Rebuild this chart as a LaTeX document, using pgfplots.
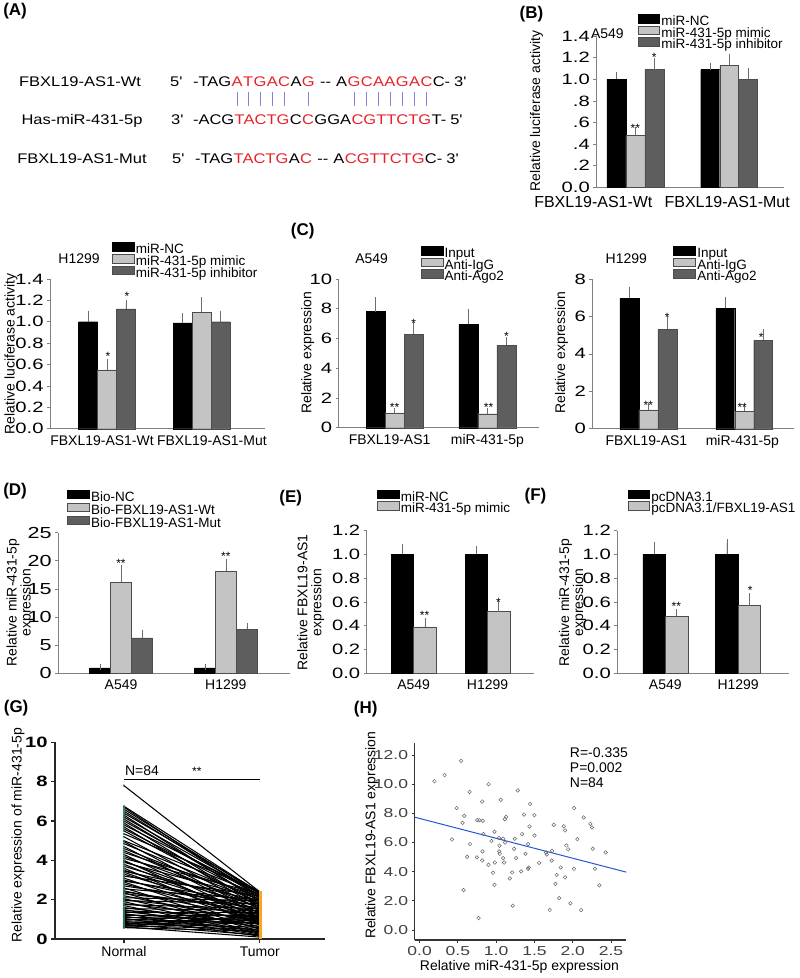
\documentclass[border=0pt]{standalone}
\usepackage{fontspec}
\setmainfont{Liberation Sans}
\newfontfamily\tickfont{Liberation Sans}[FakeStretch=1.35]
\newfontfamily\seqfont{Liberation Sans}[FakeStretch=1.18]
\usepackage{pgfplots}
\pgfplotsset{compat=1.18}
\usepackage{pgfplotstable}

\definecolor{lgray}{HTML}{C4C4C4}
\definecolor{dgray}{HTML}{5E5E5E}
\definecolor{ebar}{HTML}{6E6E6E}
\definecolor{seqred}{HTML}{E8202A}
\definecolor{pairblue}{HTML}{8282D8}
\definecolor{regblue}{HTML}{2A55D2}
\definecolor{tumor}{HTML}{F2A81D}
\definecolor{normal}{HTML}{2F6E55}

\newcommand\fsz[1]{\fontsize{#1pt}{#1pt}\selectfont}

\pgfplotsset{
  barax/.style={
    scale only axis, anchor=south west, clip=false,
    axis x line*=bottom, axis y line*=left,
    axis line style={draw=gray, line width=0.6pt},
    ybar=0pt, ymin=0,
    tick align=outside, major tick length=3pt,
    ytick style={draw=gray, line width=0.6pt},
    xtick style={draw=none},
    xticklabel style={font=\fsz{14}},
    yticklabel style={font=\tickfont\fsz{14}},
    /pgf/number format/assume math mode=true,
    legend cell align=left,
    legend style={draw=none, fill=none, anchor=north west, inner sep=0pt,
      row sep=-2.5pt, font=\fsz{13.5},
      nodes={inner xsep=1.5pt, inner ysep=0pt, text height=9pt, text depth=2.5pt}},
    error bars/y dir=plus, error bars/y explicit,
    error bars/error bar style={draw=ebar, line width=0.6pt},
    error bars/error mark options={draw=ebar, mark size=3pt, line width=0.6pt},
  },
  swatch/.style={legend image code/.code={\draw[##1] (0pt,-0.5pt) rectangle (22pt,8pt);}},
  blk/.style={fill=black, draw=black, line width=0.4pt, swatch},
  lgt/.style={fill=lgray, draw=black!70, line width=0.4pt, swatch},
  drk/.style={fill=dgray, draw=black!70, line width=0.4pt, swatch},
}

% G: paired samples (normal, tumor), estimated
\pgfplotstableread{
n t
7.80 2.40
6.75 2.35
6.70 2.10
6.60 2.30
6.50 2.20
6.40 2.40
6.30 1.90
6.20 2.30
6.10 2.00
6.00 2.20
5.90 1.70
5.80 2.35
5.70 1.60
5.60 2.10
5.50 1.80
5.35 2.40
5.20 1.50
5.00 2.25
4.95 1.30
4.85 2.00
4.70 1.20
4.60 1.90
4.50 1.55
4.40 2.15
4.30 1.00
4.20 1.75
4.10 2.30
4.00 0.90
3.95 1.45
3.90 2.05
3.80 1.10
3.70 1.65
3.60 0.70
3.50 1.35
3.45 1.95
3.40 0.95
3.30 1.25
3.20 2.20
3.10 0.80
3.00 1.50
2.95 1.85
2.90 0.60
2.80 1.15
2.70 1.70
2.60 0.50
2.55 2.00
2.45 1.05
2.40 1.40
2.35 0.40
2.30 1.60
2.20 0.85
2.10 1.95
2.05 0.55
2.00 1.25
1.95 1.80
1.90 0.35
1.80 1.00
1.75 1.55
1.70 0.30
1.60 0.75
1.55 1.45
1.50 0.25
1.45 1.10
1.40 0.65
1.35 1.35
1.30 0.20
1.25 0.90
1.20 1.20
1.15 0.45
1.10 1.00
1.05 0.15
1.00 0.80
0.95 1.30
0.90 0.35
0.85 1.05
0.80 0.60
0.78 1.15
0.75 0.20
0.70 0.95
0.68 0.50
0.65 1.20
0.62 0.10
0.60 0.85
0.58 0.40
}\gdata

% H: scatter of miR-431-5p vs FBXL19-AS1
\pgfplotstableread{
x y
0.543 11.60
0.326 10.62
0.196 10.20
0.900 10.00
1.283 9.57
0.652 9.47
0.817 8.81
1.061 8.93
1.443 8.65
0.483 8.36
2.017 8.36
1.365 7.92
1.500 7.88
0.583 7.83
1.130 7.76
1.113 7.60
2.143 7.72
0.752 7.53
0.783 7.53
0.826 7.49
0.561 7.35
1.752 7.21
2.230 7.28
1.435 7.10
1.883 7.12
2.252 7.03
1.900 6.83
0.978 6.74
0.835 6.58
1.339 6.58
1.500 6.48
0.422 6.21
1.039 6.32
1.091 6.26
1.243 6.26
2.061 6.23
0.939 6.10
1.117 6.00
0.661 5.89
1.043 5.78
1.417 5.89
1.917 5.80
1.235 5.57
1.939 5.53
2.261 5.57
0.822 5.39
1.039 5.39
1.730 5.43
1.661 5.18
1.383 5.23
2.430 5.32
0.622 5.02
1.091 4.93
1.261 4.93
1.726 4.77
0.817 4.77
0.983 4.63
1.104 4.63
1.561 4.61
0.900 4.47
1.426 4.29
1.417 4.20
1.843 4.29
2.017 4.20
2.291 4.20
0.960 3.93
1.209 3.95
1.326 4.02
1.791 3.77
1.178 3.54
1.900 3.61
1.774 3.17
0.978 3.10
2.348 3.06
0.574 2.74
1.822 2.19
1.970 1.83
1.217 1.67
1.700 1.37
2.109 1.37
0.770 0.82
1.048 5.23
1.652 5.32
0.748 4.98
}\hdata

\begin{document}
\begin{tikzpicture}
\fill[white] (0pt,0pt) rectangle (800pt,-978pt);

% ---------- (A) sequences ----------
\begin{scope}[every node/.style={inner sep=0pt, anchor=base west, font=\seqfont\fsz{14}}]
  \node[anchor=base] at (80pt,-85pt) {FBXL19-AS1-Wt};
  \node[anchor=base] at (82pt,-123pt) {Has-miR-431-5p};
  \node[anchor=base] at (82pt,-162pt) {FBXL19-AS1-Mut};
  \node at (170pt,-85pt) {5'};
  \node at (171pt,-123pt) {3'};
  \node at (172pt,-162pt) {5'};
  % row 1
  \node (w0) at (193pt,-85pt) {-TAG};
  \node[text=seqred] (r1) at (w0.base east) {A};
  \node[text=seqred] (r2) at (r1.base east) {T};
  \node[text=seqred] (r3) at (r2.base east) {G};
  \node[text=seqred] (r4) at (r3.base east) {A};
  \node[text=seqred] (r5) at (r4.base east) {C};
  \node (w1) at (r5.base east) {A};
  \node[text=seqred] (r6) at (w1.base east) {G};
  \node (w2) at (r6.base east) {\hspace{5pt}-{}-\hspace{5pt}A};
  \node[text=seqred] (r7) at (w2.base east) {G};
  \node[text=seqred] (r8) at (r7.base east) {C};
  \node[text=seqred] (r9) at (r8.base east) {A};
  \node[text=seqred] (r10) at (r9.base east) {A};
  \node[text=seqred] (r11) at (r10.base east) {G};
  \node[text=seqred] (r12) at (r11.base east) {A};
  \node[text=seqred] (r13) at (r12.base east) {C};
  \node at (r13.base east) {C-\hspace{4pt}3'};
  % row 2
  \node (m0) at (193pt,-123pt) {-ACG};
  \node[text=seqred] (m1) at (m0.base east) {TACTG};
  \node (m2) at (m1.base east) {C};
  \node[text=seqred] (m3) at (m2.base east) {C};
  \node (m4) at (m3.base east) {GGA};
  \node[text=seqred] (m5) at (m4.base east) {CGTTCTG};
  \node at (m5.base east) {T-\hspace{4pt}5'};
  % row 3
  \node (u0) at (195pt,-162pt) {-TAG};
  \node[text=seqred] (u1) at (u0.base east) {TACTG};
  \node (u2) at (u1.base east) {A};
  \node[text=seqred] (u3) at (u2.base east) {C};
  \node (u4) at (u3.base east) {\hspace{5pt}-{}-\hspace{5pt}A};
  \node[text=seqred] (u5) at (u4.base east) {CGTTCTG};
  \node at (u5.base east) {C-\hspace{4pt}3'};
\end{scope}
\foreach \i in {1,...,13}
  \draw[pairblue, line width=0.8pt] ([yshift=-6pt]r\i.base) -- ([yshift=-20pt]r\i.base);

% ---------- panel letters ----------
\begin{scope}[every node/.style={font=\bfseries\fsz{17}}]
  \node at (15pt,-10pt) {(A)};
  \node at (532pt,-13pt) {(B)};
  \node at (303pt,-230pt) {(C)};
  \node at (15pt,-490pt) {(D)};
  \node at (291pt,-497pt) {(E)};
  \node at (536pt,-495pt) {(F)};
  \node at (16pt,-708pt) {(G)};
  \node at (366pt,-709pt) {(H)};
\end{scope}

% ---------- (B) A549 luciferase ----------
\begin{axis}[barax, at={(597pt,-186pt)}, width=188pt, height=151pt,
  xmin=-0.415, xmax=1.585, ymax=1.4, bar width=19pt,
  ytick={0,0.2,0.4,0.6,0.8,1.0,1.2,1.4}, yticklabels={0.0,.2,.4,.6,.8,1.0,1.2,1.4},
  yticklabel style={font=\tickfont\fsz{15}},
  xtick=\empty,
  legend style={at={(0.218,1.146)}}]
\addplot[blk] coordinates {(0,1.00) +- (0,0.04) (1,1.09) +- (0,0.035)};
\addplot[lgt] coordinates {(0,0.48) +- (0,0.045) (1,1.13) +- (0,0.08)};
\addplot[drk] coordinates {(0,1.09) +- (0,0.08) (1,1.00) +- (0,0.075)};
\legend{miR-NC,miR-431-5p mimic,miR-431-5p inhibitor}
\end{axis}
\node[font=\fsz{16}] at (594pt,-201pt) {FBXL19-AS1-Wt};
\node[font=\fsz{16}] at (728pt,-201pt) {FBXL19-AS1-Mut};

% ---------- H1299 luciferase ----------
\begin{axis}[barax, at={(50pt,-428pt)}, width=215pt, height=150pt,
  xmin=-0.602, xmax=1.668, ymax=1.4, bar width=19pt,
  ytick={0,0.2,0.4,0.6,0.8,1.0,1.2,1.4}, yticklabels={0.0,0.2,0.4,0.6,0.8,1.0,1.2,1.4},
  yticklabel style={font=\tickfont\fsz{15}},
  xtick={-0.053,1.109}, xticklabels={FBXL19-AS1-Wt,FBXL19-AS1-Mut},
  legend style={at={(0.288,1.247)}, row sep=-2pt}]
\addplot[blk] coordinates {(0,1.00) +- (0,0.075) (1,0.99) +- (0,0.065)};
\addplot[lgt] coordinates {(0,0.55) +- (0,0.075) (1,1.09) +- (0,0.11)};
\addplot[drk] coordinates {(0,1.12) +- (0,0.055) (1,1.00) +- (0,0.075)};
\legend{miR-NC,miR-431-5p mimic,miR-431-5p inhibitor}
\end{axis}

% ---------- (C) A549 RIP ----------
\begin{axis}[barax, at={(339pt,-427pt)}, width=201pt, height=149pt,
  xmin=-0.602, xmax=1.56, ymax=10, bar width=19pt,
  ytick={0,2,4,6,8,10},
  yticklabel style={font=\tickfont\fsz{15}},
  xtick={-0.054,1.0}, xticklabels={FBXL19-AS1,miR-431-5p},
  legend style={at={(0.408,1.221)}, row sep=-2.5pt}]
\addplot[blk] coordinates {(0,7.80) +- (0,0.75) (1,6.95) +- (0,0.85)};
\addplot[lgt] coordinates {(0,1.00) +- (0,0.15) (1,0.94) +- (0,0.17)};
\addplot[drk] coordinates {(0,6.28) +- (0,0.60) (1,5.55) +- (0,0.33)};
\legend{Input,Anti-IgG,Anti-Ago2}
\end{axis}

% ---------- (C) H1299 RIP ----------
\begin{axis}[barax, at={(593pt,-428pt)}, width=202pt, height=150pt,
  xmin=-0.583, xmax=1.52, ymax=8, bar width=19pt,
  ytick={0,2,4,6,8},
  yticklabel style={font=\tickfont\fsz{15}},
  xtick={-0.02,0.98}, xticklabels={FBXL19-AS1,miR-431-5p},
  legend style={at={(0.401,1.22)}, row sep=-2.5pt}]
\addplot[blk] coordinates {(0,6.96) +- (0,0.47) (1,6.42) +- (0,0.48)};
\addplot[lgt] coordinates {(0,1.00) +- (0,0.22) (1,0.94) +- (0,0.17)};
\addplot[drk] coordinates {(0,5.31) +- (0,0.53) (1,4.73) +- (0,0.46)};
\legend{Input,Anti-IgG,Anti-Ago2}
\end{axis}

% ---------- (D) pull-down ----------
\begin{axis}[barax, at={(58pt,-673pt)}, width=232pt, height=141pt,
  xmin=-0.601, xmax=1.61, ymax=25, bar width=21pt,
  ytick={0,5,10,15,20,25},
  yticklabel style={font=\tickfont\fsz{16}},
  xtick={0,1}, xticklabels={A549,H1299},
  legend style={at={(0.039,1.305)}, row sep=-1pt}]
\addplot[blk] coordinates {(0,1.0) +- (0,0.1) (1,1.0) +- (0,0.1)};
\addplot[lgt] coordinates {(0,16.2) +- (0,2.5) (1,18.1) +- (0,1.7)};
\addplot[drk] coordinates {(0,6.3) +- (0,0.9) (1,7.8) +- (0,0.6)};
\legend{Bio-NC,Bio-FBXL19-AS1-Wt,Bio-FBXL19-AS1-Mut}
\end{axis}

% ---------- (E) ----------
\begin{axis}[barax, at={(367pt,-673pt)}, width=168pt, height=143pt,
  xmin=-0.635, xmax=1.635, ymax=1.2, bar width=22.5pt,
  ytick={0,0.2,0.4,0.6,0.8,1.0,1.2}, yticklabels={0.0,0.2,0.4,0.6,0.8,1.0,1.2},
  yticklabel style={font=\tickfont\fsz{15}},
  xtick={0,1}, xticklabels={A549,H1299},
  legend style={at={(0.06,1.287)}}]
\addplot[blk] coordinates {(0,1.00) +- (0,0.065) (1,1.00) +- (0,0.045)};
\addplot[lgt] coordinates {(0,0.39) +- (0,0.05) (1,0.52) +- (0,0.07)};
\legend{miR-NC,miR-431-5p mimic}
\end{axis}

% ---------- (F) ----------
\begin{axis}[barax, at={(618pt,-673pt)}, width=172pt, height=143pt,
  xmin=-0.658, xmax=1.70, ymax=1.2, bar width=22.5pt,
  ytick={0,0.2,0.4,0.6,0.8,1.0,1.2}, yticklabels={0.0,0.2,0.4,0.6,0.8,1.0,1.2},
  yticklabel style={font=\tickfont\fsz{15}},
  xtick={0,1}, xticklabels={A549,H1299},
  legend style={at={(0.058,1.287)}}]
\addplot[blk] coordinates {(0,1.00) +- (0,0.075) (1,1.00) +- (0,0.10)};
\addplot[lgt] coordinates {(0,0.48) +- (0,0.035) (1,0.57) +- (0,0.08)};
\legend{pcDNA3.1,pcDNA3.1/FBXL19-AS1}
\end{axis}

% ---------- (G) paired lines ----------
\begin{axis}[scale only axis, anchor=south west, at={(55pt,-939pt)}, width=270pt, height=197pt,
  clip=false, xmin=-0.507, xmax=1.478, ymin=0, ymax=10,
  axis x line*=bottom, axis y line*=left,
  axis line style={line width=1.4pt, black!85},
  tick align=outside, major tick length=4pt, tick style={line width=1.2pt, black!85},
  ytick={0,2,4,6,8,10}, xtick={0,1}, xticklabels={Normal,Tumor},
  /pgf/number format/assume math mode=true,
  yticklabel style={font=\tickfont\bfseries\fsz{15}},
  xticklabel style={font=\fsz{14}}]
\addplot[black, line width=1.05pt, quiver={u=1, v=\thisrow{t}-\thisrow{n}}]
  table[x expr=0, y=n] {\gdata};
\addplot[only marks, mark=*, mark size=0.9pt, normal] table[x expr=0, y=n] {\gdata};
\addplot[only marks, mark=square*, mark size=1pt, tumor] table[x expr=1, y=t] {\gdata};
\draw[line width=0.8pt] (axis cs:0,8.12) -- (axis cs:1,8.12);
\end{axis}

% ---------- (H) scatter ----------
\begin{axis}[scale only axis, anchor=south west, at={(415pt,-940pt)}, width=212pt, height=197pt,
  clip=false, xmin=-0.065, xmax=2.7, ymin=-0.685, ymax=12.8,
  axis x line*=bottom, axis y line*=left,
  axis line style={line width=1.4pt, black!80},
  tick align=outside, major tick length=3pt, tick style={line width=0.8pt, black!80},
  xtick={0,0.5,1.0,1.5,2.0,2.5}, xticklabels={0.0,0.5,1.0,1.5,2.0,2.5},
  ytick={0,2,4,6,8,10,12}, yticklabels={0.0,2.0,4.0,6.0,8.0,10.0,12.0},
  /pgf/number format/assume math mode=true,
  yticklabel style={font=\tickfont\fsz{13}, text=black!75},
  xticklabel style={font=\tickfont\fsz{13}, text=black!75}]
\addplot[only marks, mark=o, mark size=1.8pt, mark options={black!60, line width=0.5pt}] table {\hdata};
\addplot[regblue, line width=1pt] coordinates {(-0.065,7.74) (2.7,3.97)};
\end{axis}

% ---------- text: titles, axis labels, significance ----------
\begin{scope}[every node/.style={font=\fsz{14}}]
  \node at (608pt,-32pt) {A549};
  \node[rotate=90] at (537pt,-110pt) {Relative luciferase activity};
  \node at (79pt,-258pt) {H1299};
  \node[rotate=90] at (11pt,-353pt) {Relative luciferase activity};
  \node at (372pt,-258pt) {A549};
  \node[rotate=90] at (308pt,-352pt) {Relative expression};
  \node at (627pt,-258pt) {H1299};
  \node[rotate=90] at (562pt,-352pt) {Relative expression};
  \node[rotate=90, align=center, font=\fontsize{14pt}{14pt}\selectfont] at (20pt,-602pt) {Relative miR-431-5p\\expression};
  \node[rotate=90, align=center, font=\fontsize{14pt}{14pt}\selectfont] at (311pt,-602pt) {Relative FBXL19-AS1\\expression};
  \node[rotate=90, align=center, font=\fontsize{14pt}{14pt}\selectfont] at (573pt,-602pt) {Relative miR-431-5p\\expression};
  \node[rotate=90] at (18pt,-835pt) {Relative expression of miR-431-5p};
  \node at (142pt,-770pt) {N=84};
  \node[rotate=90] at (372pt,-835pt) {Relative FBXL19-AS1 expression};
  \node at (520pt,-967pt) {Relative miR-431-5p expression};
  \node[anchor=west] at (567pt,-752pt) {R=-0.335};
  \node[anchor=west] at (567pt,-767pt) {P=0.002};
  \node[anchor=west] at (567pt,-782pt) {N=84};
\end{scope}
\begin{scope}[every node/.style={font=\fsz{12}, anchor=base, inner sep=0pt}]
  \node at (197pt,-775pt) {**};
  \node at (636pt,-131pt) {**};
  \node at (655pt,-60pt) {*};
  \node at (108pt,-360pt) {*};
  \node at (127pt,-300pt) {*};
  \node at (395pt,-411pt) {**};
  \node at (414pt,-327pt) {*};
  \node at (489pt,-411pt) {**};
  \node at (507pt,-340pt) {*};
  \node at (649pt,-409pt) {**};
  \node at (668pt,-321pt) {*};
  \node at (743pt,-411pt) {**};
  \node at (762pt,-341pt) {*};
  \node at (121pt,-567pt) {**};
  \node at (226pt,-560pt) {**};
  \node at (425pt,-619pt) {**};
  \node at (499pt,-606pt) {*};
  \node at (677pt,-610pt) {**};
  \node at (751pt,-594pt) {*};
\end{scope}
\end{tikzpicture}
\end{document}
